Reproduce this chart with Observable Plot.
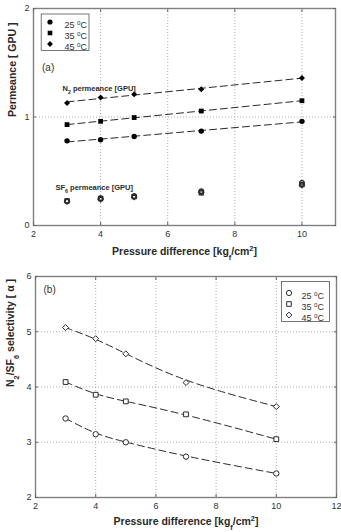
<!DOCTYPE html>
<html>
<head>
<meta charset="utf-8">
<script src="https://cdn.jsdelivr.net/npm/d3@7"></script>
<script src="https://cdn.jsdelivr.net/npm/@observablehq/plot@0.6"></script>
<style>
  html, body { margin: 0; padding: 0; background: #fff; }
  #chart svg { display: block; }
</style>
</head>
<body>
<div id="chart"></div>
<script>
// Feed pressure difference [kgf/cm2] and operating temperatures
const pressure = [3, 4, 5, 7, 10];
const temps = ["25", "35", "45"];
const tempLabels = ["25 ^{o}C", "35 ^{o}C", "45 ^{o}C"];

// N2 permeance [GPU]
const n2At25 = [0.78, 0.79, 0.82, 0.87, 0.96];
const n2At35 = [0.93, 0.96, 0.995, 1.055, 1.15];
const n2At45 = [1.13, 1.18, 1.21, 1.255, 1.36];

// SF6 permeance [GPU]
const sf6At25 = [0.227, 0.251, 0.272, 0.317, 0.394];
const sf6At35 = [0.227, 0.249, 0.266, 0.301, 0.378];
const sf6At45 = [0.222, 0.242, 0.263, 0.307, 0.373];

// N2/SF6 selectivity
const selAt25 = [3.43, 3.145, 3.0, 2.74, 2.435];
const selAt35 = [4.09, 3.86, 3.74, 3.505, 3.055];
const selAt45 = [5.075, 4.875, 4.6, 4.08, 3.645];

// Axis ticks
const xTicksA = [2, 4, 6, 8, 10];
const yTicksA = [0, 1, 2];
const xTicksB = [2, 4, 6, 8, 10, 12];
const yTicksB = [2, 3, 4, 5, 6];

const toRows = (series) =>
  series.flatMap((vals, i) => vals.map((v, j) => ({temp: temps[i], x: pressure[j], y: v})));

const n2 = toRows([n2At25, n2At35, n2At45]);
const sf6 = toRows([sf6At25, sf6At35, sf6At45]);
const sel = toRows([selAt25, selAt35, selAt45]);

const symbolScale = {domain: temps, range: ["circle", "square", "diamond2"]};
const ink = "#2a2a2a";
const gridStyle = {stroke: "#9a9a9a", strokeOpacity: 1, strokeDasharray: "1,2", strokeWidth: 0.8};
const baseStyle = {fontFamily: "'Liberation Sans', Arial, sans-serif", fontSize: "9px", color: "#333", background: "#fff"};
const intFormat = (d) => String(d);

// Inward tick marks on all four sides plus outside tick labels
function frameAxes(xTicks, yTicks) {
  const tick = {tickSize: -3, fill: "none", tickFormat: () => "", label: null, stroke: "#666"};
  return [
    Plot.axisX({...tick, ticks: xTicks, anchor: "bottom"}),
    Plot.axisX({...tick, ticks: xTicks, anchor: "top"}),
    Plot.axisY({...tick, ticks: yTicks, anchor: "left"}),
    Plot.axisY({...tick, ticks: yTicks, anchor: "right"}),
    Plot.axisX({ticks: xTicks, anchor: "bottom", tickSize: 0, tickPadding: 5, tickFormat: intFormat, label: null, fontSize: 9}),
    Plot.axisY({ticks: yTicks, anchor: "left", tickSize: 0, tickPadding: 4, tickFormat: intFormat, label: null, fontSize: 9})
  ];
}

// In-plot legend: a box with one symbol and one label per temperature
function legendMarks({anchor, box, markerDx, textDx, top, step, filled}) {
  return [
    Plot.frame({...box, fill: "#fff", stroke: "#555", strokeWidth: 0.8}),
    ...temps.flatMap((t, i) => [
      Plot.dot([t], {
        frameAnchor: anchor, dx: markerDx, dy: top + i * step, symbol: (d) => d, r: 2.6,
        fill: filled ? "#000" : "#fff", stroke: filled ? "none" : ink, strokeWidth: 1
      }),
      Plot.text([tempLabels[i]], {
        frameAnchor: anchor, dx: textDx, dy: top + i * step, textAnchor: "start", fontSize: 9, fill: "#333"
      })
    ])
  ];
}

// (a) Permeance
const plotA = Plot.plot({
  width: 341, height: 262,
  marginLeft: 33, marginRight: 6, marginTop: 8, marginBottom: 37,
  x: {domain: [2, 11]},
  y: {domain: [0, 2]},
  symbol: symbolScale,
  style: baseStyle,
  marks: [
    Plot.gridX({...gridStyle, ticks: xTicksA.slice(1)}),
    Plot.gridY({...gridStyle, ticks: yTicksA.slice(1, -1)}),
    Plot.frame({stroke: "#808080", strokeWidth: 1.4}),
    ...frameAxes(xTicksA, yTicksA),
    Plot.linearRegressionY(n2, {x: "x", y: "y", z: "temp", ci: 0, stroke: ink, strokeWidth: 1, strokeDasharray: "7,4"}),
    Plot.dot(n2, {x: "x", y: "y", symbol: "temp", fill: "#000", r: 2.7}),
    Plot.dot(sf6, {x: "x", y: "y", symbol: "temp", fill: "none", stroke: ink, strokeWidth: 1.3, r: 2.3}),
    ...legendMarks({
      anchor: "top-left",
      box: {insetLeft: 7.7, insetTop: 5.5, insetRight: 246.5, insetBottom: 175},
      markerDx: 16.5, textDx: 31, top: 13.5, step: 11, filled: true
    }),
    Plot.text(["(a)"], {frameAnchor: "top-left", dx: 8.5, dy: 55, textAnchor: "start", fontSize: 10, fill: "#333"}),
    Plot.text(["N_{2} permeance [GPU]"], {frameAnchor: "top-left", dx: 29, dy: 77, textAnchor: "start", fontSize: 7.5, fontWeight: "bold", fill: ink}),
    Plot.text(["SF_{6} permeance [GPU]"], {frameAnchor: "top-left", dx: 22, dy: 176, textAnchor: "start", fontSize: 7.5, fontWeight: "bold", fill: ink}),
    Plot.text(["Pressure difference [kg_{f}/cm^{2}]"], {frameAnchor: "bottom", dy: 29, fontSize: 10.5, fontWeight: "bold", fill: ink}),
    Plot.text(["Permeance [ GPU ]"], {frameAnchor: "left", dx: -21, rotate: -90, fontSize: 10.5, fontWeight: "bold", fill: ink})
  ]
});

// (b) Selectivity
const plotB = Plot.plot({
  width: 341, height: 270,
  marginLeft: 35, marginRight: 5, marginTop: 14, marginBottom: 35,
  x: {domain: [2, 12]},
  y: {domain: [2, 6]},
  symbol: symbolScale,
  style: baseStyle,
  marks: [
    Plot.gridX({...gridStyle, ticks: xTicksB.slice(1, -1)}),
    Plot.gridY({...gridStyle, ticks: yTicksB.slice(1, -1)}),
    Plot.frame({stroke: "#808080", strokeWidth: 1.4}),
    ...frameAxes(xTicksB, yTicksB),
    Plot.line(sel, {x: "x", y: "y", z: "temp", curve: "basis", stroke: ink, strokeWidth: 1, strokeDasharray: "7,4"}),
    Plot.dot(sel, {x: "x", y: "y", symbol: "temp", fill: "#fff", stroke: ink, strokeWidth: 1, r: 2.7}),
    ...legendMarks({
      anchor: "top-right",
      box: {insetLeft: 246, insetTop: 5, insetRight: 7, insetBottom: 176},
      markerDx: -47.5, textDx: -35, top: 16.5, step: 11, filled: false
    }),
    Plot.text(["(b)"], {frameAnchor: "top-left", dx: 8, dy: 9, textAnchor: "start", fontSize: 10, fill: "#333"}),
    Plot.text(["Pressure difference [kg_{f}/cm^{2}]"], {frameAnchor: "bottom", dy: 27, fontSize: 10.5, fontWeight: "bold", fill: ink}),
    Plot.text(["N_{2}/SF_{6} selectivity [ α ]"], {frameAnchor: "left", dx: -25, rotate: -90, fontSize: 10.5, fontWeight: "bold", fill: ink})
  ]
});

// Turn _{..} and ^{..} markup into subscript / superscript tspans
function applyRichText(svg) {
  const ns = "http://www.w3.org/2000/svg";
  svg.querySelectorAll("text").forEach((node) => {
    const targets = node.querySelector("tspan") ? [...node.querySelectorAll("tspan")] : [node];
    targets.forEach((el) => {
      const s = el.textContent;
      if (!/[_^]\{/.test(s)) return;
      el.textContent = "";
      const re = /([_^])\{([^}]*)\}/g;
      let last = 0, m;
      const add = (str, shift) => {
        const ts = document.createElementNS(ns, "tspan");
        ts.textContent = str;
        if (shift) {
          ts.setAttribute("baseline-shift", shift);
          ts.setAttribute("font-size", "70%");
        }
        el.appendChild(ts);
      };
      while ((m = re.exec(s))) {
        if (m.index > last) add(s.slice(last, m.index));
        add(m[2], m[1] === "_" ? "sub" : "super");
        last = re.lastIndex;
      }
      if (last < s.length) add(s.slice(last));
    });
  });
}

applyRichText(plotA);
applyRichText(plotB);
document.getElementById("chart").append(plotA, plotB);
</script>
</body>
</html>
